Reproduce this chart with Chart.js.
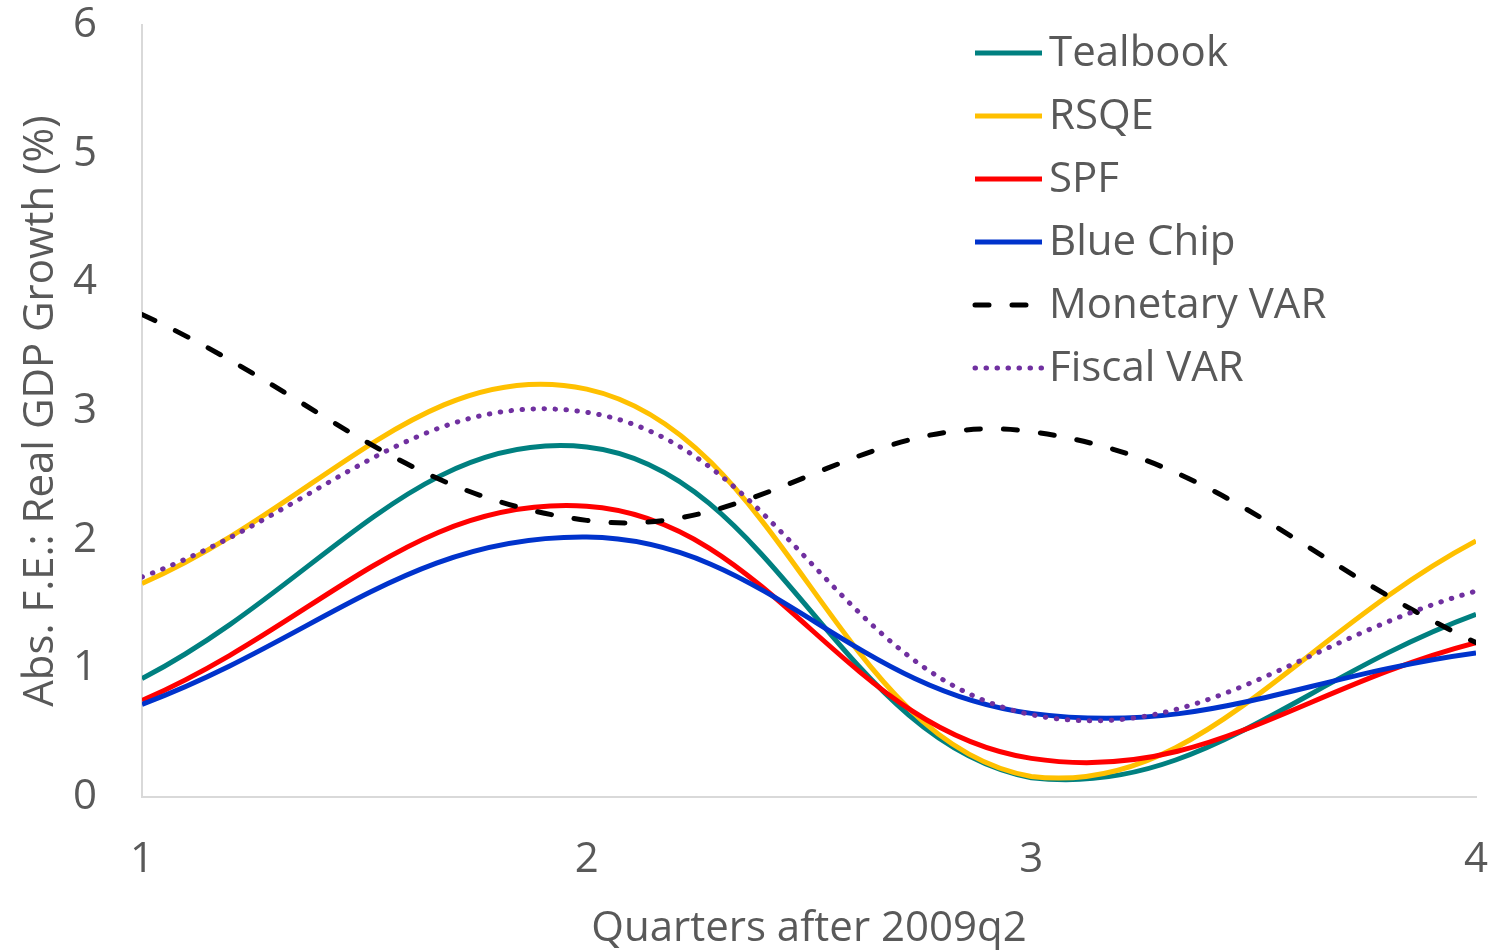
<!DOCTYPE html>
<html>
<head>
<meta charset="utf-8">
<script src="https://cdn.jsdelivr.net/npm/chart.js@4/dist/chart.umd.min.js"></script>
<style>
  html, body { margin: 0; padding: 0; background: #ffffff; }
  #wrap { width: 1491px; height: 950px; }
</style>
</head>
<body>
<div id="wrap"><canvas id="c" width="1491" height="950"></canvas></div>
<script>
// Quarters after 2009q2
const quarters = [1, 2, 3, 4];

// Absolute forecast errors, real GDP growth (%)
const tealbook    = [0.92, 2.72, 0.15, 1.42];
const rsqe        = [1.66, 3.17, 0.16, 1.99];
const spf         = [0.75, 2.26, 0.30, 1.20];
const blueChip    = [0.72, 2.02, 0.65, 1.12];
const monetaryVar = [3.75, 2.15, 2.84, 1.20];
const fiscalVar   = [1.71, 2.99, 0.64, 1.60];

const yTicks = [0, 1, 2, 3, 4, 5, 6];

const FONT = "'Open Sans', 'Liberation Sans', sans-serif";
const TEXT = '#595959';
const FS = 42;

function pts(vals) { return quarters.map((q, i) => ({ x: q, y: vals[i] })); }

const series = [
  { label: 'Tealbook',     data: tealbook,    color: '#008080', dash: [] },
  { label: 'RSQE',         data: rsqe,        color: '#FFC000', dash: [] },
  { label: 'SPF',          data: spf,         color: '#FF0000', dash: [] },
  { label: 'Blue Chip',    data: blueChip,    color: '#0033CC', dash: [] },
  { label: 'Monetary VAR', data: monetaryVar, color: '#000000', dash: [14, 23] },
  { label: 'Fiscal VAR',   data: fiscalVar,   color: '#7030A0', dash: [0.5, 10.5] }
];

// Legend drawn as line samples with labels, top right inside the plot
const lineLegend = {
  id: 'lineLegend',
  afterDraw(chart) {
    const ctx = chart.ctx;
    ctx.save();
    chart.data.datasets.forEach((ds, i) => {
      const y = 53 + i * 63;
      ctx.beginPath();
      ctx.strokeStyle = ds.borderColor;
      ctx.lineWidth = ds.borderWidth;
      ctx.lineCap = ds.borderCapStyle;
      ctx.setLineDash(ds.borderDash);
      ctx.moveTo(975, y);
      ctx.lineTo(1042, y);
      ctx.stroke();
      ctx.setLineDash([]);
      ctx.fillStyle = TEXT;
      ctx.font = FS + 'px ' + FONT;
      ctx.textBaseline = 'middle';
      ctx.textAlign = 'left';
      ctx.fillText(ds.label, 1049, y + 1);
    });
    ctx.restore();
  }
};

new Chart(document.getElementById('c'), {
  type: 'line',
  data: {
    datasets: series.map((s, i) => ({
      label: s.label,
      data: pts(s.data),
      borderColor: s.color,
      backgroundColor: s.color,
      borderWidth: 5,
      borderDash: s.dash,
      borderCapStyle: s.dash.length ? 'round' : 'butt',
      borderJoinStyle: 'round',
      pointRadius: 0,
      tension: 0.4,
      fill: false,
      order: series.length - i
    }))
  },
  options: {
    responsive: false,
    animation: false,
    layout: { padding: { left: 0, right: 15, top: 25, bottom: 0 } },
    plugins: { legend: { display: false }, tooltip: { enabled: false } },
    scales: {
      x: {
        type: 'linear',
        min: 1, max: 4,
        afterFit(scale) {
          scale.height = 950 - 797;
          scale.paddingLeft = 0;
          scale.paddingRight = 0;
        },
        afterBuildTicks(scale) { scale.ticks = quarters.map(v => ({ value: v })); },
        grid: { display: false, drawTicks: false },
        border: { display: true, color: '#D9D9D9', width: 2 },
        ticks: { color: TEXT, font: { family: FONT, size: FS }, padding: 38, maxRotation: 0 },
        title: {
          display: true, text: 'Quarters after 2009q2', color: TEXT,
          font: { family: FONT, size: FS, lineHeight: 1 }, padding: { top: 0, bottom: 0 }
        }
      },
      y: {
        type: 'linear',
        min: 0, max: 6,
        afterFit(scale) {
          scale.width = 142;
          scale.paddingTop = 0;
          scale.paddingBottom = 0;
        },
        afterBuildTicks(scale) { scale.ticks = yTicks.map(v => ({ value: v })); },
        grid: { display: false, drawTicks: false },
        border: { display: true, color: '#D9D9D9', width: 2 },
        ticks: { color: TEXT, font: { family: FONT, size: FS }, padding: 45 },
        title: {
          display: true, text: 'Abs. F.E.: Real GDP Growth (%)', color: TEXT,
          font: { family: FONT, size: FS, lineHeight: 1 }, padding: { top: 20, bottom: 0 }
        }
      }
    }
  },
  plugins: [lineLegend]
});
</script>
</body>
</html>
